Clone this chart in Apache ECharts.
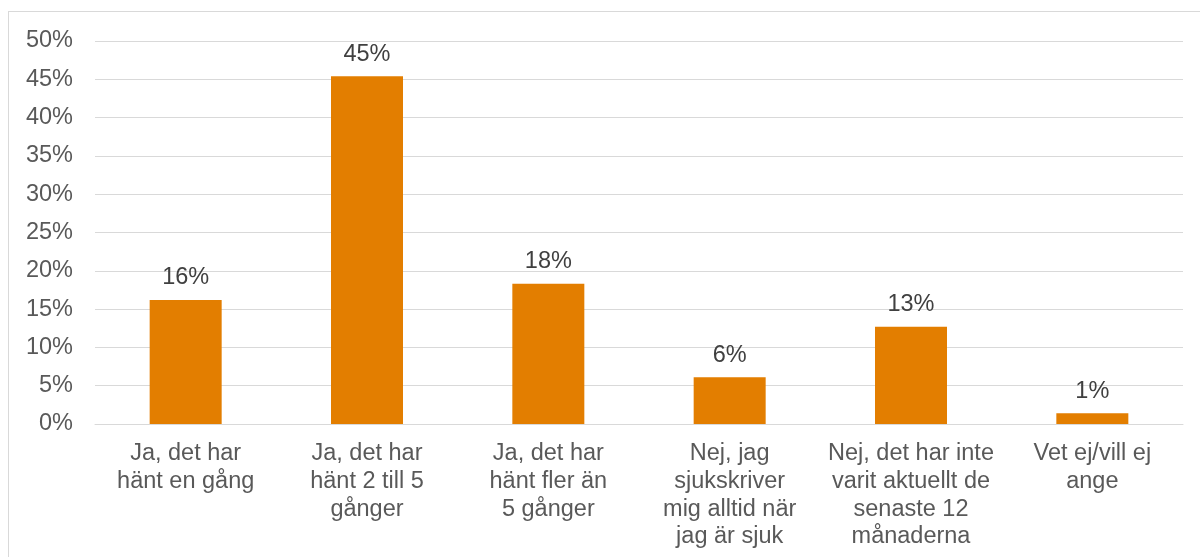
<!DOCTYPE html>
<html>
<head>
<meta charset="utf-8">
<script src="https://cdn.jsdelivr.net/npm/echarts@6/dist/echarts.min.js"></script>
<style>
  html, body { margin: 0; padding: 0; background: #fff; overflow: hidden; }
  .frame {
    position: absolute; left: 8px; top: 11px;
    width: 1250px; height: 600px;
    border: 1px solid #d9d9d9;
  }
  #chart { position: absolute; left: 0; top: 0; width: 1200px; height: 557px; }
</style>
</head>
<body>
<div class="frame"></div>
<div id="chart"></div>
<script>
// svarsalternativ
var categories = [
  'Ja, det har\nhänt en gång',
  'Ja, det har\nhänt 2 till 5\ngånger',
  'Ja, det har\nhänt fler än\n5 gånger',
  'Nej, jag\nsjukskriver\nmig alltid när\njag är sjuk',
  'Nej, det har inte\nvarit aktuellt de\nsenaste 12\nmånaderna',
  'Vet ej/vill ej\nange'
];
// andel (%)
var values = [16.2, 45.4, 18.3, 6.1, 12.7, 1.4];
var yTicks = [0, 5, 10, 15, 20, 25, 30, 35, 40, 45, 50];

var chart = echarts.init(document.getElementById('chart'), null, { renderer: 'canvas' });

var font = 'Arial, "Liberation Sans", sans-serif';

var option = {
  animation: false,
  grid: { left: 95, right: 17, top: 41, bottom: 133, containLabel: false },
  xAxis: {
    type: 'category',
    data: categories,
    axisLine: { show: true, lineStyle: { color: '#d9d9d9', width: 1 } },
    axisTick: { show: false },
    axisLabel: {
      interval: 0,
      margin: 16,
      color: '#595959',
      fontSize: 23.5,
      lineHeight: 27.7,
      fontFamily: font
    }
  },
  yAxis: {
    type: 'value',
    min: yTicks[0],
    max: yTicks[yTicks.length - 1],
    interval: 5,
    axisLine: { show: false },
    axisTick: { show: false },
    splitLine: { lineStyle: { color: '#d9d9d9', width: 1 } },
    axisLabel: {
      margin: 22,
      color: '#595959',
      fontSize: 23.5,
      fontFamily: font,
      formatter: '{value}%'
    }
  },
  series: [{
    type: 'bar',
    data: values,
    barWidth: 72,
    itemStyle: { color: '#E37E00' },
    label: {
      show: true,
      position: 'top',
      distance: 10,
      color: '#404040',
      fontSize: 23.5,
      fontFamily: font,
      formatter: function (p) { return Math.round(p.value) + '%'; }
    }
  }]
};

chart.setOption(option);
</script>
</body>
</html>
